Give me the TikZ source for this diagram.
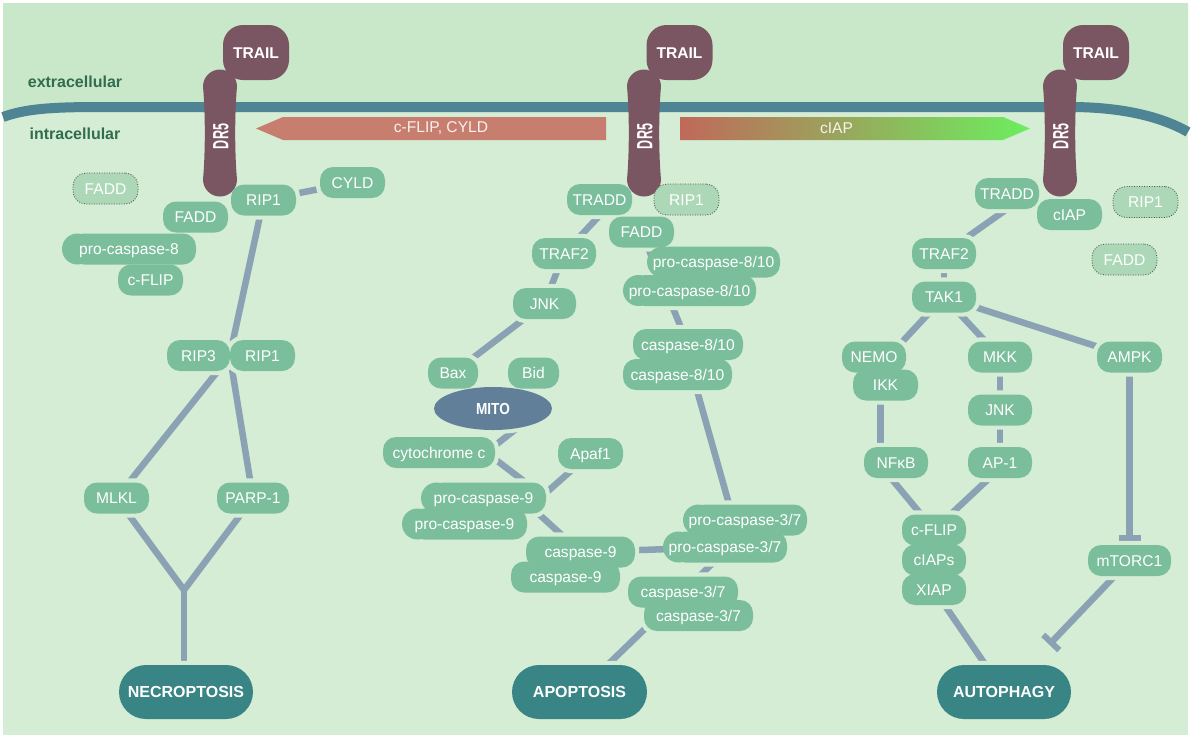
\documentclass[tikz,border=0pt]{standalone}
\usepackage{fontspec}
\usepackage{graphicx}
\setmainfont{Liberation Sans}
\usetikzlibrary{arrows.meta,shapes.geometric,calc}
\pgfdeclarelayer{bgl}\pgfdeclarelayer{lines}\pgfdeclarelayer{halo}
\pgfsetlayers{bgl,lines,halo,main}
\definecolor{bgint}{RGB}{212,237,212}
\definecolor{bgext}{RGB}{200,232,201}
\definecolor{membc}{RGB}{78,132,148}
\definecolor{protc}{RGB}{122,86,99}
\definecolor{ngreen}{RGB}{123,190,155}
\definecolor{dotfill}{RGB}{172,216,183}
\definecolor{dotline}{RGB}{80,90,85}
\definecolor{connc}{RGB}{138,162,180}
\definecolor{outc}{RGB}{57,132,132}
\definecolor{mitoc}{RGB}{98,127,153}
\definecolor{labgreen}{RGB}{50,108,78}
\definecolor{arrL}{RGB}{200,126,110}
\definecolor{gradA}{RGB}{192,105,90}
\definecolor{gradB}{RGB}{108,238,94}
\definecolor{arrtextc}{RGB}{248,242,238}
\tikzset{
 gnode/.style={rectangle, rounded corners=13pt, fill=ngreen, text=white, minimum height=31pt,
   inner xsep=4pt, inner ysep=0pt, text height=11.2pt, text depth=0pt,
   font=\fontsize{15.6}{18}\selectfont},
 dnode/.style={gnode, fill=dotfill, draw=dotline, line width=0.9pt, dash pattern=on 0.9pt off 1.6pt},
 bump/.style={rectangle, rounded corners=15.5pt, fill=ngreen, minimum width=31pt, minimum height=31pt, inner sep=0pt},
 outnode/.style={rectangle, rounded corners=27pt, fill=outc, text=white, minimum width=134pt,
   minimum height=54pt, inner sep=0pt, text height=11.5pt, text depth=0pt,
   font=\fontsize{16}{18}\selectfont\bfseries},
 trailnode/.style={rectangle, fill=protc, text=white, inner sep=0pt, text depth=0pt,
   rounded corners=20pt, minimum width=66pt, minimum height=55pt,
   text height=11.2pt, font=\fontsize{15.6}{18}\selectfont\bfseries},
 drtext/.style={rotate=90, text=white, inner sep=0pt, font=\fontsize{22}{24}\selectfont\bfseries},
 conn/.style={draw=connc, line width=6.5pt},
 inh/.style={conn, -{Bar[width=22pt,line width=6pt]}},
 halostyle/.style={draw=bgint, line width=8pt},
 lab/.style={text=labgreen, font=\fontsize{16}{18}\selectfont\bfseries},
 arrtext/.style={text=arrtextc, font=\fontsize{15.6}{18}\selectfont},
}
\newcommand\gn[5]{\node[gnode, minimum width=#4pt] (#1) at (#2,#3) {#5};}
\newcommand\dn[5]{\node[dnode, minimum width=#4pt] (#1) at (#2,#3) {#5};}
\newcommand\drfill[2]{\begin{scope}[shift={(#1,#2)}]
  \fill[protc] (-17,-46.5) .. controls (-17,-55.9) and (-9.4,-63.5) .. (0,-63.5)
    .. controls (9.4,-63.5) and (17,-55.9) .. (17,-46.5)
    .. controls (14.6,-20) and (14.6,20) .. (17,46.5)
    .. controls (17,55.9) and (9.4,63.5) .. (0,63.5)
    .. controls (-9.4,63.5) and (-17,55.9) .. (-17,46.5)
    .. controls (-14.6,20) and (-14.6,-20) .. (-17,-46.5) -- cycle;
  \end{scope}}
\begin{document}
\begin{tikzpicture}[x=1pt,y=-1pt]
\useasboundingbox (0,0) rectangle (1192,740);
\begin{pgfonlayer}{bgl}
\fill[white] (0,0) rectangle (1192,740);
\fill[bgint] (3,3) rectangle (1188,735);
\fill[bgext] (3,3) -- (1188,3) -- (1188,132) .. controls (1160,116) and (1120,107) .. (1070,107)
  -- (100,107) .. controls (50,107) and (25,109) .. (3,117) -- cycle;
\draw[membc, line width=10pt] (3,117) .. controls (25,109) and (50,107) .. (100,107)
  -- (1070,107) .. controls (1120,107) and (1160,116) .. (1188,132);
\end{pgfonlayer}

% side labels
\node[lab] (ext) at (75,82) {extracellular};
\node[lab] (int) at (75,134) {intracellular};

% big arrows
\fill[arrL] (256,128.5) -- (283,117) -- (606,117) -- (606,140) -- (283,140) -- cycle;
\node[arrtext] (arrLtext) at (441,128.5) {c-FLIP, CYLD};
\shade[left color=gradA, right color=gradB] (680,117) -- (1003,117) -- (1030,128.5) -- (1003,140) -- (680,140) -- cycle;
\node[arrtext] (arrRtext) at (836.5,128.5) {cIAP};

% receptors
\node[trailnode] (TRAILa) at (256,52.5) {TRAIL};
\node[trailnode] (TRAILb) at (679.5,52.5) {TRAIL};
\node[trailnode] (TRAILc) at (1096,52.5) {TRAIL};
\drfill{220}{133}
\drfill{644}{133}
\drfill{1060}{133}
\node[drtext] (DR5a) at (221,136.5) {\scalebox{0.57}[1]{DR5}};
\node[drtext] (DR5b) at (645,136.5) {\scalebox{0.57}[1]{DR5}};
\node[drtext] (DR5c) at (1061,136.5) {\scalebox{0.57}[1]{DR5}};

% ---------- left: necroptosis ----------
\dn{FADDd}{105.5}{188.5}{65}{FADD}
\gn{FADDa}{195.5}{217}{65}{FADD}
\gn{RIP1a}{263.5}{200}{65}{RIP1}
\gn{CYLD}{352.5}{182.5}{65}{CYLD}
\node[bump] (pc8bump) at (77.5,249) {};
\gn{pc8}{133.5}{249}{125}{\hspace*{-9pt}pro-caspase-8}
\gn{cFLIPa}{150.5}{280}{65}{c-FLIP}
\gn{RIP3}{198.5}{355.5}{63}{RIP3}
\gn{RIP1b}{262.5}{355.5}{65}{RIP1}
\gn{MLKL}{116.5}{498}{65}{MLKL}
\gn{PARP1}{253}{498}{72}{PARP-1}
\node[outnode] (NEC) at (186,692) {NECROPTOSIS};
\coordinate (Y) at (184,590);

% ---------- middle: apoptosis ----------
\gn{TRADDm}{599.5}{199.5}{65}{TRADD}
\dn{RIP1d}{686.5}{199.5}{65}{RIP1}
\gn{FADDm}{641.5}{232}{65}{FADD}
\node[bump] (pc810abump) at (662.5,262) {};
\gn{pc810a}{718}{262}{124}{\hspace*{-9pt}pro-caspase-8/10}
\node[bump] (pc810bbump) at (638.5,290.5) {};
\gn{pc810b}{694}{290.5}{124}{\hspace*{-9pt}pro-caspase-8/10}
\gn{casp810a}{688}{344.5}{110}{caspase-8/10}
\gn{casp810b}{677.5}{374.5}{109}{caspase-8/10}
\gn{TRAF2m}{564}{253.5}{64}{TRAF2}
\gn{JNKm}{544.5}{303.5}{63}{JNK}
\gn{Bax}{453}{373}{50}{Bax}
\gn{Bid}{533.5}{373}{51}{Bid}
\node[ellipse, fill=mitoc, text=white, minimum width=118pt, minimum height=43pt, inner sep=0pt,
  text height=11.5pt, text depth=0pt, font=\fontsize{16}{18}\selectfont\bfseries] (MITO) at (493,408.5) {\scalebox{0.85}[1]{MITO}};
\gn{cytc}{439}{452.5}{112}{cytochrome c}
\gn{Apaf1}{590.5}{453.5}{65}{Apaf1}
\node[bump] (pc9abump) at (436.5,498) {};
\gn{pc9a}{488}{498}{116}{\hspace*{-9pt}pro-caspase-9}
\node[bump] (pc9bbump) at (417.5,524) {};
\gn{pc9b}{469}{524}{116}{\hspace*{-9pt}pro-caspase-9}
\gn{casp9a}{580.5}{552}{109}{caspase-9}
\gn{casp9b}{565.5}{577}{109}{caspase-9}
\node[bump] (pc37abump) at (698.5,520) {};
\gn{pc37a}{749.5}{520}{115}{\hspace*{-9pt}pro-caspase-3/7}
\node[bump] (pc37bbump) at (678.5,547) {};
\gn{pc37b}{729.5}{547}{115}{\hspace*{-9pt}pro-caspase-3/7}
\gn{casp37a}{683}{592}{110}{caspase-3/7}
\gn{casp37b}{698.5}{615.5}{109}{caspase-3/7}
\node[outnode, minimum width=135pt] (APOP) at (579.5,692) {APOPTOSIS};

% ---------- right: autophagy ----------
\gn{TRADDr}{1007}{193.5}{64}{TRADD}
\gn{cIAPr}{1069.5}{214.5}{65}{cIAP}
\dn{RIP1r}{1145.5}{202}{65}{RIP1}
\dn{FADDr}{1124.5}{259.5}{65}{FADD}
\gn{TRAF2r}{944}{253.5}{64}{TRAF2}
\gn{TAK1}{944}{297}{64}{TAK1}
\gn{NEMO}{874}{357}{64}{NEMO}
\gn{IKK}{885.5}{385}{65}{IKK}
\gn{MKK}{1000}{357}{64}{MKK}
\gn{JNKr}{1000}{410}{64}{JNK}
\gn{AP1}{1000}{462.5}{64}{AP-1}
\gn{NFkB}{896}{462.5}{64}{NFκB}
\gn{AMPK}{1129.5}{357}{65}{AMPK}
\gn{cFLIPr}{934}{530}{64}{c-FLIP}
\gn{cIAPs}{934}{560}{64}{cIAPs}
\gn{XIAP}{934}{589.5}{64}{XIAP}
\gn{mTORC1}{1129.5}{560.5}{83}{mTORC1}
\node[outnode] (AUTO) at (1004,692) {AUTOPHAGY};

% ---------- halos (gaps round the nodes) ----------
\begin{pgfonlayer}{halo}
\foreach \n in {FADDa,RIP1a,CYLD,pc8,cFLIPa,RIP3,RIP1b,MLKL,PARP1,
  TRADDm,FADDm,pc810a,pc810b,casp810a,casp810b,TRAF2m,JNKm,Bax,Bid,cytc,Apaf1,
  pc9a,pc9b,casp9a,casp9b,pc37a,pc37b,casp37a,casp37b,
  TRADDr,cIAPr,TRAF2r,TAK1,NEMO,IKK,MKK,JNKr,AP1,NFkB,AMPK,cFLIPr,cIAPs,XIAP,mTORC1}
  {\draw[halostyle, rounded corners=13pt] (\n.south west) rectangle (\n.north east);}
\foreach \n in {NEC,APOP,AUTO}
  {\draw[halostyle, rounded corners=27pt] (\n.south west) rectangle (\n.north east);}
\draw[halostyle] (MITO.center) ellipse [x radius=59, y radius=21.5];
\end{pgfonlayer}

% ---------- connectors ----------
\begin{pgfonlayer}{lines}
% left
\draw[conn] (RIP1a.center) -- (CYLD.center);
\draw[conn] (RIP1a.center) -- (RIP1b.west) -- (PARP1.center);
\draw[conn] (RIP3.east) -- (MLKL.center);
\draw[conn] (MLKL.center) -- (Y) -- (PARP1.center);
\draw[conn] (Y) -- (Y |- NEC.center);
% middle
\draw[conn] ([xshift=15pt]TRADDm.center) -- (TRAF2m.center);
\draw[conn] (TRAF2m.center) -- (JNKm.center);
\draw[conn] (JNKm.center) -- (Bax.center);
\draw[conn] (MITO.-40) -- ([xshift=-9pt]cytc.east) -- (pc9a.east);
\draw[conn] (Apaf1.center) -- ([xshift=-6pt]pc9a.east);
\draw[conn] ([xshift=-25pt]pc9a.east) -- (casp9a.center);
\draw[conn] (casp9a.center) -- (pc37b.center);
\draw[conn] (FADDm.center) -- (casp810a.center);
\draw[conn] ([xshift=15pt]casp810b.center) -- ([xshift=-16pt]pc37a.center);
\draw[conn] (pc37b.center) -- (casp37a.center);
\draw[conn] (casp37a.center) -- (APOP.center);
% right
\draw[conn] ([xshift=22pt]TRADDr.center) -- (TRAF2r.center);
\draw[conn] (TRAF2r.center) -- (TAK1.center);
\draw[conn] (TAK1.center) -- ([xshift=14pt]NEMO.center);
\draw[conn] (TAK1.center) -- (MKK.center);
\draw[conn] (TAK1.center) -- (AMPK.center);
\draw[conn] ([xshift=-5pt]IKK.center) -- ([xshift=-5pt]IKK.center |- NFkB.center);
\draw[conn] (MKK.center) -- (JNKr.center) -- (AP1.center);
\draw[conn] ([xshift=-18pt]NFkB.center) -- (cFLIPr.center);
\draw[conn] ([xshift=6pt]AP1.center) -- (cFLIPr.center);
\draw[conn] (XIAP.center) -- (AUTO.center);
\draw[inh] (AMPK.center) -- ([yshift=4pt]mTORC1.north);
\draw[inh] (mTORC1.center) -- ($(mTORC1.center)!0.64!(AUTO.center)$);
\end{pgfonlayer}
\end{tikzpicture}
\end{document}
